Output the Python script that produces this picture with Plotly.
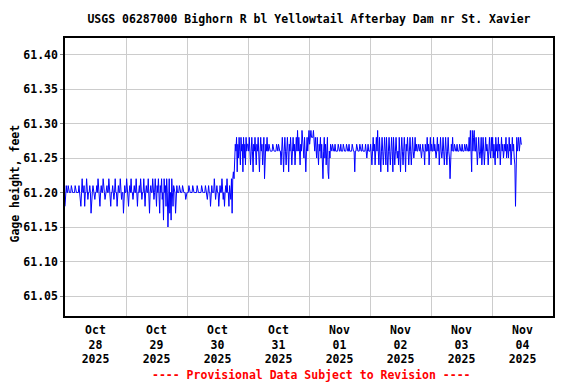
import pandas as pd
import plotly.graph_objects as go

# Gage height readings, hundredths of a foot above 61.00, 15-minute steps
oct28 = [18,20,21,20,20,21,20,20,20,20,21,20,20,20,20,20,21,20,20,20,20,20,21,20,
         20,18,20,22,20,20,21,18,20,20,22,20,19,20,20,21,20,17,20,20,21,20,20,19,
         20,20,21,20,22,20,20,18,20,21,20,20,22,20,20,19,20,20,21,20,20,22,20,20,
         18,20,20,21,20,19,20,22,20,20,18,20,21,20,20,22,20,19,20,20,17,20,21,20]
oct29 = [20,22,20,20,18,20,21,20,22,20,20,19,20,21,20,20,22,20,18,20,20,21,20,22,
         20,19,20,20,22,20,18,20,21,20,20,22,20,17,20,21,20,20,22,20,19,20,22,20,
         18,21,20,22,20,17,21,20,22,19,20,16,22,20,21,18,22,20,15,21,22,17,20,16,
         22,20,18,21,20,20,17,20,21,20,20,20,21,20,20,20,20,21,20,20,20,20,19,20]
oct30 = [20,20,20,21,20,20,20,20,20,21,20,20,20,20,20,20,21,20,20,20,20,20,20,21,
         20,20,20,20,20,21,20,20,19,20,21,20,20,18,20,21,20,20,20,22,20,19,20,21,
         20,20,18,20,21,20,20,22,20,19,20,18,20,21,20,22,20,20,18,21,20,19,22,17,
         22,23,22,24,27,26,28,23,27,25,28,26,24,28,26,27,23,28,25,27,24,28,26,27]
oct31 = [27,26,28,26,24,26,28,26,23,27,26,28,26,24,27,26,28,26,23,26,28,26,27,24,
         26,28,22,26,27,26,28,26,26,27,26,26,26,26,26,27,26,26,26,26,26,27,26,26,
         27,26,26,26,24,26,28,26,23,26,28,26,24,26,28,26,23,27,26,28,26,24,26,28,
         26,27,24,26,28,26,29,26,28,26,24,27,26,29,28,26,25,28,26,23,26,28,26,27]
nov01 = [29,27,28,29,28,28,28,29,28,26,28,27,25,28,26,24,27,26,28,25,27,24,22,26,
         28,25,27,24,26,28,23,22,26,25,27,26,26,27,26,26,26,27,26,26,26,26,27,26,
         26,26,27,26,26,26,27,26,26,26,26,27,26,26,26,27,26,26,26,26,27,26,26,26,
         23,26,26,27,26,26,26,26,27,26,26,26,27,26,26,26,26,27,26,25,26,27,26,26]
nov02 = [26,27,26,24,26,28,26,27,24,26,28,26,29,26,24,28,26,23,26,28,26,24,26,28,
         26,24,28,26,23,26,28,26,24,26,28,26,23,28,26,24,26,28,26,25,26,24,28,26,
         23,26,28,26,24,26,28,26,23,27,26,28,26,24,26,28,26,24,26,28,26,25,26,28,
         26,27,26,26,27,26,26,27,26,25,26,27,26,26,24,27,26,26,28,26,27,24,26,28]
nov03 = [26,27,26,26,28,26,27,26,25,26,28,26,27,24,26,28,26,25,26,28,26,24,26,28,
         26,24,26,28,26,25,22,26,27,26,28,26,26,27,26,26,26,27,26,26,26,27,26,26,
         26,27,26,26,26,27,26,26,27,26,26,26,28,26,29,26,23,29,26,28,29,26,26,28,
         26,24,26,28,26,25,26,28,24,26,28,26,24,26,28,26,27,26,24,26,28,26,25,28]
nov04 = [26,28,25,27,26,24,28,26,27,25,28,26,27,24,26,28,26,27,25,26,27,26,28,25,
         27,26,25,28,26,27,24,26,28,26,27,25,24,18,22,28,26,27,28,26,27,28,27,27]

hundredths = oct28 + oct29 + oct30 + oct31 + nov01 + nov02 + nov03 + nov04
gage = [61.0 + h / 100.0 for h in hundredths]
times = pd.date_range("2025-10-28 00:00", periods=len(gage), freq="15min")

day_labels = ["Oct<br>28<br>2025", "Oct<br>29<br>2025", "Oct<br>30<br>2025",
              "Oct<br>31<br>2025", "Nov<br>01<br>2025", "Nov<br>02<br>2025",
              "Nov<br>03<br>2025", "Nov<br>04<br>2025"]
day_noons = pd.date_range("2025-10-28 12:00", periods=8, freq="1D")
y_ticks = [61.05, 61.10, 61.15, 61.20, 61.25, 61.30, 61.35, 61.40]

FONT = "DejaVu Sans Mono"
FS = 11.5
OFF = 8  # default page body margin
W, H = 576 - OFF, 384 - OFF

fig = go.Figure()
fig.add_trace(go.Scatter(x=times, y=gage, mode="lines",
                         line=dict(color="#0000FF", width=1, shape="linear"),
                         hoverinfo="x+y", showlegend=False))

fig.update_layout(
    width=W, height=H,
    margin=dict(l=65 - OFF, r=23, t=38 - OFF, b=68, autoexpand=False),
    paper_bgcolor="white", plot_bgcolor="white",
    font=dict(family=FONT, size=FS, color="black"),
    title=dict(text="<b>USGS 06287000 Bighorn R bl Yellowtail Afterbay Dam nr St. Xavier</b>",
               x=0.5, xref="paper", xanchor="center", y=1 - (19 - OFF) / H, yanchor="middle",
               font=dict(family=FONT, size=FS, color="black")),
    xaxis=dict(range=["2025-10-28", "2025-11-05"], automargin=False,
               tickvals=day_noons, ticktext=["<b>" + t.replace("<br>", "</b><br><b>") + "</b>" for t in day_labels],
               showgrid=False, ticks="", showline=True, mirror=True,
               linecolor="black", linewidth=1.5, zeroline=False, ticklabelstandoff=2,
               minor=dict(dtick=86400000, tick0="2025-10-28", showgrid=True,
                          gridcolor="#cccccc", gridwidth=1, ticks=""),
               tickfont=dict(family=FONT, size=FS)),
    yaxis=dict(range=[61.021, 61.424], tickvals=y_ticks, automargin=False,
               ticktext=["<b>%.2f</b>" % v for v in y_ticks],
               showgrid=True, gridcolor="#cccccc", gridwidth=1,
               ticks="outside", ticklen=3, tickcolor="#888888",
               showline=True, mirror=True, linecolor="black", linewidth=1.5,
               zeroline=False, tickfont=dict(family=FONT, size=FS)),
    annotations=[
        dict(text="<b>Gage height, feet</b>", xref="paper", yref="paper",
             x=(14 - 65) / 488, y=(316 - 183.5) / 278, textangle=-90,
             showarrow=False, xanchor="center", yanchor="middle",
             font=dict(family=FONT, size=FS, color="black")),
        dict(text="<b>---- Provisional Data Subject to Revision ----</b>",
             xref="paper", yref="paper", x=(311 - 65) / 488, y=(316 - 375) / 278,
             showarrow=False, xanchor="center", yanchor="middle",
             font=dict(family=FONT, size=FS, color="#FF0000")),
    ],
)

fig.write_html("out.html")
